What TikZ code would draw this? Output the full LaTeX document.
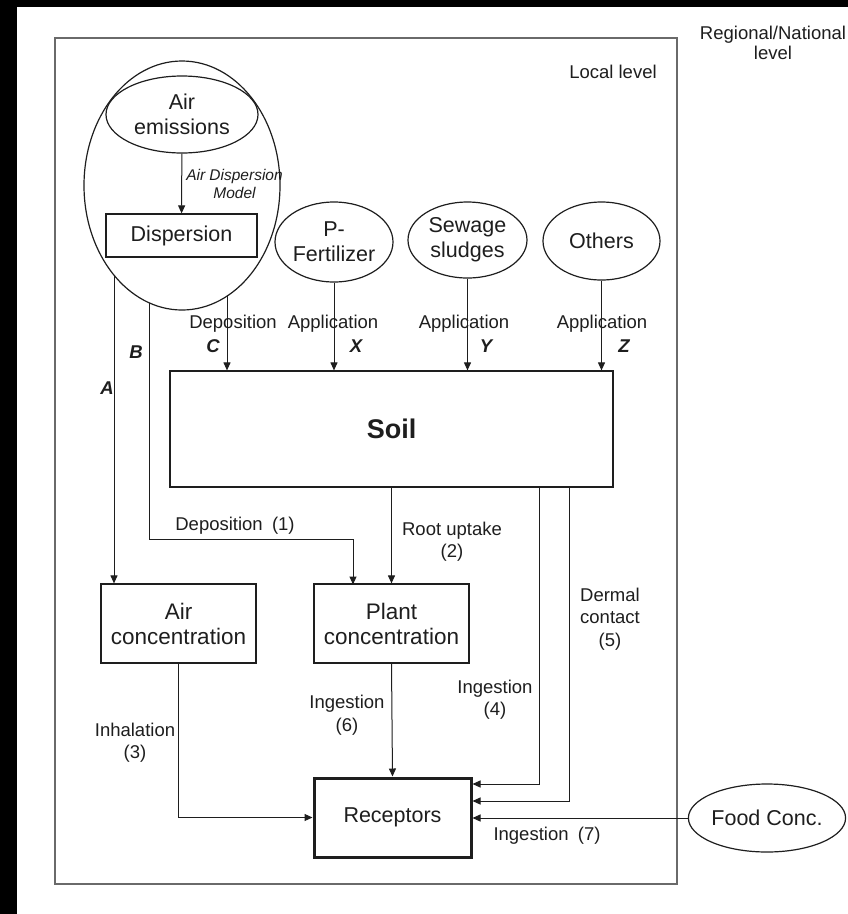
\documentclass[tikz,border=0pt]{standalone}
\usepackage{fontspec}
\setmainfont{Liberation Sans}
\usetikzlibrary{shapes.geometric,arrows.meta}
\definecolor{ink}{HTML}{1E1E1E}
\definecolor{framegray}{HTML}{6A6A6A}
\begin{document}
\begin{tikzpicture}[x=1pt,y=-1pt,
  every node/.style={text=ink},
  wire/.style={draw=ink, line width=1pt},
  conn/.style={wire, -{Triangle[length=8pt,width=7pt]}},
  boxnode/.style={draw=ink, line width=1.2pt, rectangle, inner sep=0pt, align=center,
    font=\fontsize{21.5}{25}\selectfont},
  ovalnode/.style={draw=ink, line width=1.2pt, ellipse, inner sep=0pt, align=center,
    font=\fontsize{21.5}{25}\selectfont},
  lbl/.style={align=center, inner sep=0pt, font=\fontsize{18.5}{22.5}\selectfont},
  tag/.style={inner sep=0pt, font=\fontsize{18.5}{20}\selectfont\bfseries\itshape},
]
% page and dark edge
\useasboundingbox (0,0) rectangle (848,914);
\fill[white] (0,0) rectangle (848,914);
\fill[black] (0,0) rectangle (848,6.5);
\fill[black] (0,0) rectangle (17,914);

% local level frame
\draw[framegray, line width=1.5pt] (55,38) rectangle (677,884);
\node[lbl] (locallbl) at (613,72) {Local level};
\node[lbl, font=\fontsize{18.5}{19.5}\selectfont] (regionallbl) at (773,43) {Regional/National\\level};

% emission source group
\node[ovalnode, minimum width=196pt, minimum height=249pt] (group) at (182,185.5) {};
\node[ovalnode, minimum width=152pt, minimum height=77pt] (emis) at (182,114.5) {Air\\emissions};
\node[boxnode, minimum width=151pt, minimum height=43pt] (disp) at (181.5,235.5) {Dispersion};
\node[lbl, font=\fontsize{15.5}{18}\selectfont\itshape] (admlbl) at (234.5,184) {Air Dispersion\\Model};

% other sources
\node[ovalnode, minimum width=118pt, minimum height=80pt] (pfert) at (334,242) {P-\\Fertilizer};
\node[ovalnode, minimum width=119pt, minimum height=76pt] (sew) at (467.5,240) {Sewage\\sludges};
\node[ovalnode, minimum width=117pt, minimum height=78pt] (oth) at (601.5,241) {Others};

% compartments
\node[boxnode, minimum width=443pt, minimum height=116pt,
  font=\fontsize{27}{30}\selectfont\bfseries] (soil) at (391.5,429) {Soil};
\node[boxnode, minimum width=155pt, minimum height=79pt,
  font=\fontsize{22.5}{25}\selectfont] (airc) at (178.5,623.5) {Air\\concentration};
\node[boxnode, minimum width=155pt, minimum height=79pt,
  font=\fontsize{22.5}{25}\selectfont] (plant) at (391.5,623.5) {Plant\\concentration};
\node[boxnode, line width=3pt, minimum width=157pt, minimum height=79pt] (rec) at (392.5,817.5) {Receptors};
\node[ovalnode, minimum width=152pt, minimum height=68pt] (food) at (767,818) {Food Conc.};

% points where the pathways leave the source group
\coordinate (aOut) at (114,275);
\coordinate (bOut) at (149,303);
\coordinate (cOut) at (227,296);

% source pathways
\draw[conn] (emis) -- (disp);
\draw[conn] (cOut) -- (cOut |- soil.north);
\draw[conn] (pfert) -- (pfert |- soil.north);
\draw[conn] (sew) -- (sew |- soil.north);
\draw[conn] (oth) -- (oth |- soil.north);
\draw[conn] (aOut) -- (aOut |- airc.north);
\draw[conn] (bOut) -- (149,539) -- (353,539) -- (353,584.5);

% from soil
\draw[conn] (soil.south) -- (plant.north);
\draw[conn] (539,487) -- (539,784) -- (539,784 -| rec.east);
\draw[conn] (569,487) -- (569,801) -- (569,801 -| rec.east);

% to receptors
\draw[conn] (food.west) -- (food.west -| rec.east);
\draw[conn] (airc.south) -- (airc.south |- rec.west) -- (rec.west);
\draw[conn] (plant.south) -- (rec.north);

% pathway labels
\node[lbl] (depC) at (233,324) {Deposition};
\node[tag] (tagC) at (213,346) {C};
\node[lbl] (appX) at (333,324) {Application};
\node[tag] (tagX) at (356,346) {X};
\node[lbl] (appY) at (464,324) {Application};
\node[tag] (tagY) at (486,346) {Y};
\node[lbl] (appZ) at (602,324) {Application};
\node[tag] (tagZ) at (624,346) {Z};
\node[tag] (tagA) at (107,388) {A};
\node[tag] (tagB) at (136,352) {B};

\node[lbl] (dep1) at (235,526) {Deposition\enspace(1)};
\node[lbl] (root2) at (452,541.5) {Root uptake\\(2)};
\node[lbl] (ing4) at (495,699.5) {Ingestion\\(4)};
\node[lbl] (derm5) at (610,619) {Dermal\\contact\\(5)};
\node[lbl] (ing6) at (347,715) {Ingestion\\(6)};
\node[lbl] (inh3) at (135,742.5) {Inhalation\\(3)};
\node[lbl] (ing7) at (547,836) {Ingestion\enspace(7)};
\end{tikzpicture}
\end{document}
